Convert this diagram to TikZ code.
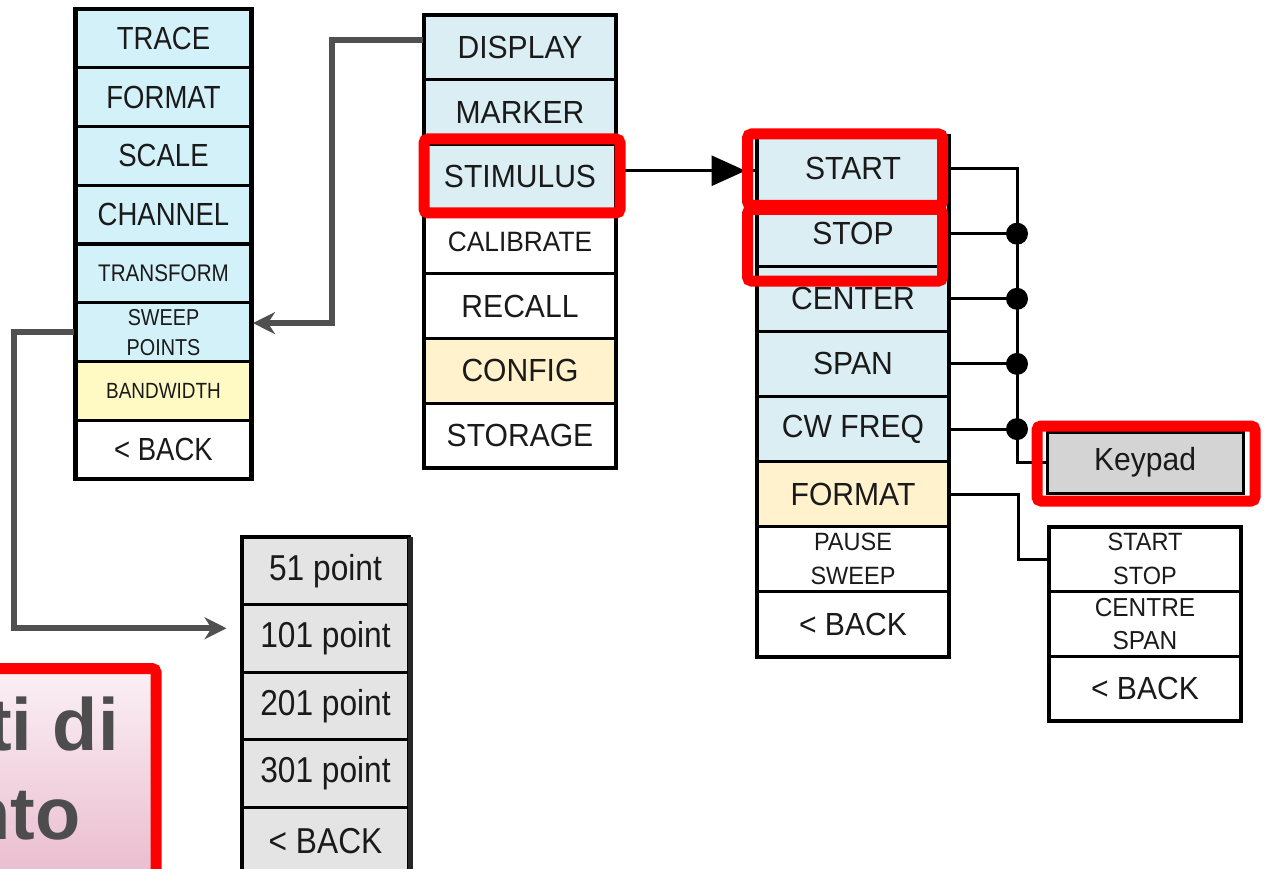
\documentclass[tikz,border=0pt]{standalone}
\usepackage{fontspec}
\setmainfont{Liberation Sans}
\newfontfamily\nar[FakeStretch=0.94]{Liberation Sans}
\newfontfamily\narL[FakeStretch=0.86]{Liberation Sans}
\newfontfamily\narP[FakeStretch=0.88]{Liberation Sans}
\usetikzlibrary{arrows.meta}
\definecolor{lcyan}{HTML}{D3F1F9}
\definecolor{lyel}{HTML}{FFF9C4}
\definecolor{mblue}{HTML}{DAEEF3}
\definecolor{mgold}{HTML}{FFF2CC}
\definecolor{kgray}{HTML}{D4D4D4}
\definecolor{pgray}{HTML}{E4E4E4}
\definecolor{cgray}{HTML}{505050}
\definecolor{hred}{HTML}{FF0000}
\definecolor{ptop}{HTML}{FBF0F5}
\definecolor{pbot}{HTML}{E6B2C7}
\definecolor{ptext}{HTML}{4D4D4D}
\definecolor{txt}{HTML}{1A1A1A}
\newcommand\fsz[1]{\fontsize{#1}{#1}\selectfont}
\begin{document}
\begin{tikzpicture}[x=1pt,y=-1pt,
  cell/.style={draw=black, line width=3pt, inner sep=0pt, text=txt, font={\nar\fsz{32}}, align=center},
  lcell/.style={cell, fill=lcyan, minimum width=176pt, minimum height=58.75pt, font={\narL\fsz{32}}},
  mcell/.style={cell, fill=mblue, minimum width=192pt, minimum height=64.7pt},
  rcell/.style={cell, fill=mblue, minimum width=192pt, minimum height=65.1pt},
  bcell/.style={cell, fill=white, minimum width=192pt, minimum height=64.7pt},
  pcell/.style={cell, fill=pgray, minimum width=167pt, minimum height=67.5pt, font={\narP\fsz{36}}},
  frame/.style={draw=black, line width=4.5pt},
  twoline/.style={font={\nar\fontsize{#1}{34}\selectfont}},
  garrow/.style={draw=cgray, line width=6pt, -{Stealth[length=22pt,width=22pt,inset=7pt]}},
  bline/.style={draw=black, line width=3pt},
  hbox/.style={draw=hred, line width=11pt, rounded corners=4pt},
  dot/.style={fill=black}
]
\useasboundingbox (0,0) rectangle (1264,869);
\clip (0,0) rectangle (1264,869);
\fill[white] (0,0) rectangle (1264,869);

% left column
\node[lcell] (l1) at (163.5,38.4) {TRACE};
\node[lcell] (l2) at (163.5,97.1) {FORMAT};
\node[lcell] (l3) at (163.5,155.9) {SCALE};
\node[lcell] (l4) at (163.5,214.6) {CHANNEL};
\node[lcell, font={\narL\fsz{24}}] (l5) at (163.5,273.4) {TRANSFORM};
\node[lcell, font={\narL\fontsize{23}{30}\selectfont}] (l6) at (163.5,332.1) {SWEEP\\POINTS};
\node[lcell, fill=lyel, font={\narL\fsz{22}}] (l7) at (163.5,390.9) {BANDWIDTH};
\node[lcell, fill=white] (l8) at (163.5,449.6) {< BACK};
\draw[frame] (75.5,9) rectangle (251.5,479);

% middle column
\node[mcell] (m1) at (520,47.35) {DISPLAY};
\node[mcell] (m2) at (520,112.05) {MARKER};
\node[mcell] (m3) at (520,176.75) {STIMULUS};
\node[mcell, fill=white, font={\nar\fsz{28}}] (m4) at (520,241.45) {CALIBRATE};
\node[mcell, fill=white] (m5) at (520,306.15) {RECALL};
\node[mcell, fill=mgold] (m6) at (520,370.85) {CONFIG};
\node[mcell, fill=white] (m7) at (520,435.55) {STORAGE};
\draw[frame] (424,15) rectangle (616,468);

% right column
\node[rcell] (r1) at (853,168.6) {START};
\node[rcell] (r2) at (853,233.7) {STOP};
\node[rcell] (r3) at (853,298.8) {CENTER};
\node[rcell] (r4) at (853,363.9) {SPAN};
\node[rcell] (r5) at (853,429.1) {CW FREQ};
\node[rcell, fill=mgold] (r6) at (853,494.2) {FORMAT};
\node[rcell, fill=white, twoline=25] (r7) at (853,559.3) {PAUSE\\SWEEP};
\node[rcell, fill=white] (r8) at (853,624.4) {< BACK};
\draw[frame] (757,136) rectangle (949,657);

% keypad
\node[cell, fill=kgray, minimum width=196pt, minimum height=61pt] (kp) at (1145,462.5) {Keypad};

% bottom right column
\node[bcell, twoline=25] (b1) at (1145,559.35) {START\\STOP};
\node[bcell, font={\nar\fontsize{26}{33}\selectfont}] (b2) at (1145,624.05) {CENTRE\\SPAN};
\node[bcell] (b3) at (1145,688.75) {< BACK};
\draw[frame] (1049,527) rectangle (1241,721);

% points column
\node[pcell] (p1) at (325.5,570.75) {51 point};
\node[pcell] (p2) at (325.5,638.25) {101 point};
\node[pcell] (p3) at (325.5,705.75) {201 point};
\node[pcell] (p4) at (325.5,773.25) {301 point};
\node[pcell] (p5) at (325.5,840.75) {< BACK};
\draw[frame] (242,537) rectangle (409,874.5);
\draw[draw=black!85, line width=5pt] (410,537) -- (410,874.5);

% pink title box (cropped)
\draw[hbox, top color=ptop, bottom color=pbot] (-30,668.5) rectangle (156,920);
\node[anchor=base east, inner sep=0pt, text=ptext, font={\bfseries\fsz{74}}] (t1) at (119,750) {ti di};
\node[anchor=base east, inner sep=0pt, text=ptext, font={\bfseries\fsz{74}}] (t2) at (81,839) {nto};

% gray connectors
\draw[garrow] ([yshift=7.4pt]m1.west) -- ++(-90.5,0) |- ([yshift=9pt]l6.east);
\draw[garrow, shorten >=14pt] (l6.west) -- ++(-60,0) |- ([yshift=10pt]p2.west);

% stimulus arrow
\draw[bline] ([yshift=6pt]m3.east) -- ([yshift=6pt]m3.east -| r1.west);
\draw[bline, -{Triangle[length=34pt,width=30pt]}, shorten >=10pt] ([yshift=6pt]m3.east) -- ([yshift=6pt]m3.east -| r1.west);

% bus to keypad
\coordinate (kb) at (1017,462.5);
\draw[bline] (r1.east) -| (kb) -- (kp.west);
\foreach \r in {r2,r3,r4,r5}{
  \draw[bline] (\r.east) -- (\r.east -| kb);
  \fill[dot] (\r.east -| kb) circle[radius=11pt];
}
\draw[bline] (r6.east) -- ++(68,0) |- (b1.west);

% red highlights
\draw[hbox] (424,139) rectangle (620,213);
\draw[hbox] (747.5,134) rectangle (942.5,205.5);
\draw[hbox] (747.5,209.5) rectangle (942.5,281);
\draw[hbox] (1037,426) rectangle (1255,501);
\end{tikzpicture}
\end{document}
